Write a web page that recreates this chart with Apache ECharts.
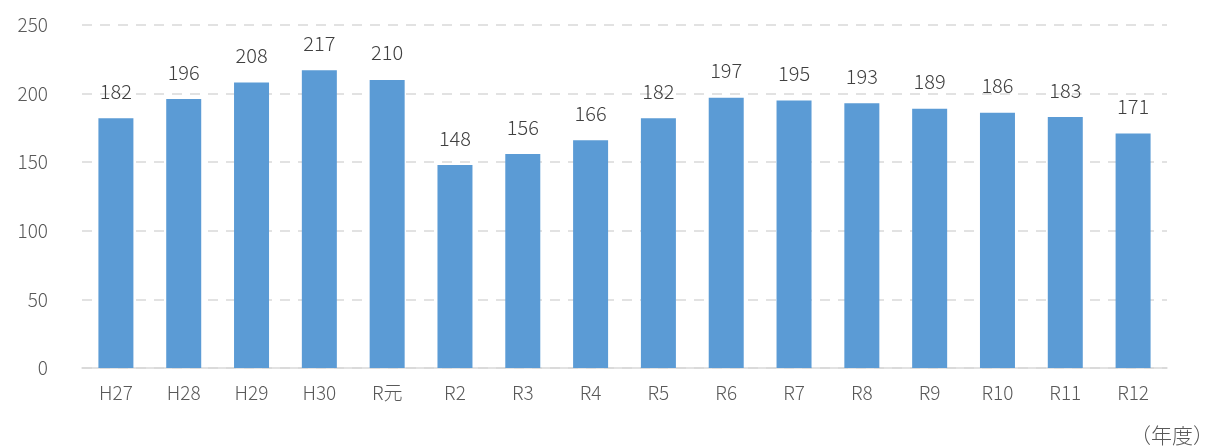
<!DOCTYPE html>
<html><head><meta charset="utf-8">
<script src="https://cdn.jsdelivr.net/npm/echarts@6/dist/echarts.min.js"></script>
<style>html,body{margin:0;padding:0;background:#fff}#c{width:1222px;height:448px}</style>
</head><body><div id="c"></div>
<script>
const categories = ['H27','H28','H29','H30','R元','R2','R3','R4','R5','R6','R7','R8','R9','R10','R11','R12'];
const values = [182,196,208,217,210,148,156,166,182,197,195,193,189,186,183,171];
const yTicks = {min:0, max:250, interval:50};
const FONT = '"Noto Sans CJK JP", "Noto Sans", sans-serif';
const chart = echarts.init(document.getElementById('c'));
chart.setOption({
  animation:false,
  grid:{left:82,right:55,top:25,bottom:80},
  xAxis:{type:'category',data:categories,
    axisLine:{lineStyle:{color:'#d9d9d9',width:1.5}},axisTick:{show:false},
    axisLabel:{color:'#595959',fontSize:19,fontFamily:FONT,fontWeight:300,margin:15}},
  yAxis:{type:'value',min:yTicks.min,max:yTicks.max,interval:yTicks.interval,
    axisLine:{show:false},axisTick:{show:false},
    axisLabel:{color:'#595959',fontSize:19,fontFamily:FONT,fontWeight:300,margin:34},
    splitLine:{lineStyle:{color:'#d9d9d9',type:[10,8],width:1.5}}},
  graphic:[{type:'text',right:8,bottom:2,style:{text:'（年度）',fill:'#595959',font:'300 21px '+FONT}}],
  series:[{type:'bar',data:values,barWidth:35,itemStyle:{color:'#5b9bd5'},
    label:{show:true,position:'top',distance:17,color:'#404040',fontSize:20,fontFamily:FONT,fontWeight:300}}]
});
</script></body></html>
